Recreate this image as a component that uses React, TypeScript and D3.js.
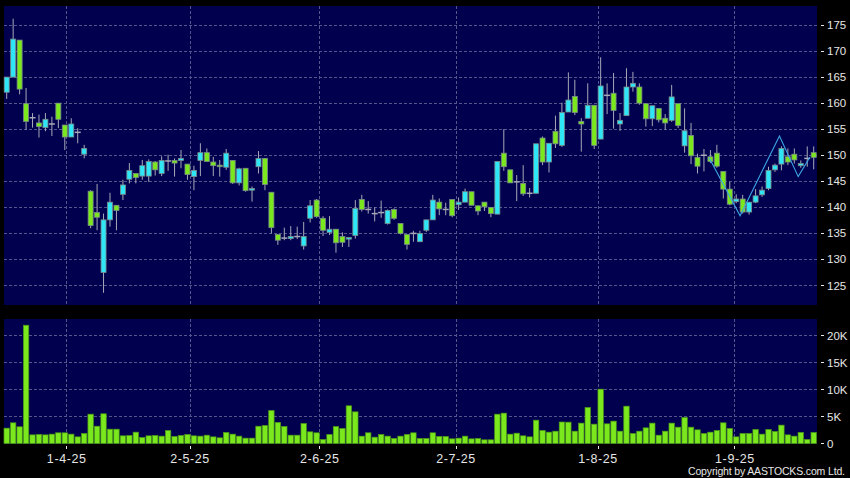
import React from "react";
import * as d3 from "d3";

// ---- data ----
const opens = [
  162.1, 165.0, 172.1, 159.9, 157.2, 156.2, 155.3, 156.0, 160.0, 155.8,
  153.5, 154.4, 150.2, 143.1, 139.0, 127.5, 137.6, 140.4, 142.5, 145.4,
  146.5, 146.0, 146.0, 148.7, 146.5, 148.9, 149.0, 149.0, 148.3, 145.9,
  149.0, 150.5, 148.7, 148.1, 147.7, 149.0, 144.7, 147.5, 143.3, 147.8,
  149.4, 142.9, 134.8, 134.1, 134.0, 134.4, 132.6, 137.9, 141.4, 137.9,
  135.2, 135.8, 134.4, 133.9, 134.6, 141.5, 139.6, 138.8, 139.0, 136.9,
  139.6, 136.9, 134.8, 135.0, 133.4, 135.6, 137.6, 141.0, 139.6, 141.5,
  140.5, 141.0, 143.0, 140.3, 141.0, 140.0, 138.7, 150.4, 147.2, 144.9,
  144.6, 142.7, 142.7, 153.3, 148.7, 154.6, 151.9, 158.3, 161.3, 156.5,
  157.1, 159.6, 153.1, 161.5, 161.9, 156.0, 157.6, 163.1, 163.1, 159.9,
  157.0, 159.0, 157.1, 156.7, 159.9, 151.8, 153.8, 149.6, 150.0, 149.7,
  150.4, 146.9, 143.5, 141.1, 141.6, 139.1, 141.0, 142.4, 143.6, 147.2,
  148.3, 149.7, 150.2, 148.0, 149.4, 150.5,
];
const highs = [
  165.0, 176.2, 172.1, 162.9, 158.1, 157.8, 158.1, 157.4, 160.0, 155.8,
  157.1, 155.2, 152.0, 143.3, 144.5, 138.8, 142.8, 140.4, 145.3, 148.5,
  146.5, 149.1, 149.2, 148.9, 149.8, 150.1, 149.4, 151.0, 148.3, 148.0,
  152.3, 151.3, 149.7, 149.1, 151.2, 149.0, 147.6, 147.5, 144.0, 150.8,
  149.4, 142.9, 134.8, 136.1, 136.4, 136.3, 137.2, 141.4, 141.6, 138.3,
  138.3, 135.8, 135.2, 134.2, 141.4, 142.4, 141.2, 140.0, 141.3, 139.6,
  139.8, 136.9, 134.8, 135.5, 135.5, 137.6, 142.4, 141.7, 140.9, 141.5,
  141.9, 143.6, 143.0, 140.3, 141.0, 140.0, 148.8, 155.0, 147.2, 146.2,
  148.1, 143.7, 152.2, 153.6, 152.3, 157.6, 160.1, 165.9, 164.5, 157.1,
  163.8, 159.6, 168.8, 163.8, 165.8, 158.1, 166.7, 166.0, 163.8, 159.9,
  159.6, 159.0, 157.9, 163.5, 159.9, 159.0, 156.2, 150.3, 151.2, 151.0,
  152.0, 146.9, 144.9, 142.5, 142.4, 141.0, 143.5, 144.0, 147.8, 148.4,
  151.7, 151.3, 151.3, 149.0, 151.7, 151.7,
];
const lows = [
  160.8, 165.0, 161.7, 154.9, 155.3, 153.4, 154.6, 153.7, 155.2, 151.0,
  153.5, 152.3, 149.4, 136.0, 135.6, 123.6, 136.3, 135.6, 141.4, 144.6,
  144.6, 145.3, 144.9, 146.1, 146.0, 147.0, 145.9, 147.5, 145.3, 143.3,
  146.0, 148.8, 146.0, 145.9, 147.2, 144.5, 144.2, 143.0, 141.1, 146.5,
  143.3, 135.0, 132.8, 133.7, 133.7, 133.9, 131.9, 137.1, 138.0, 134.5,
  134.7, 131.3, 132.4, 132.4, 134.0, 139.2, 138.8, 137.3, 138.0, 136.7,
  137.6, 134.8, 131.9, 133.4, 133.4, 135.3, 137.6, 138.5, 138.5, 138.1,
  139.5, 141.0, 140.4, 138.5, 139.3, 138.1, 138.7, 147.0, 144.7, 141.2,
  142.2, 141.9, 142.7, 148.1, 146.7, 151.4, 151.6, 158.3, 157.7, 150.7,
  157.1, 151.2, 153.1, 157.9, 155.1, 154.7, 157.6, 162.2, 159.7, 155.5,
  155.6, 156.3, 154.9, 156.4, 155.2, 150.5, 148.3, 146.5, 146.9, 148.5,
  147.6, 141.7, 140.4, 140.8, 138.8, 138.6, 140.8, 142.0, 143.3, 146.8,
  147.1, 148.1, 148.4, 147.6, 147.8, 147.3,
];
const closes = [
  165.0, 172.3, 162.7, 156.5, 157.2, 155.5, 156.9, 156.0, 156.9, 153.5,
  156.0, 154.4, 151.3, 136.5, 138.1, 137.6, 141.0, 139.4, 144.3, 147.1,
  145.7, 148.0, 148.8, 147.2, 149.0, 148.9, 148.5, 149.4, 146.3, 147.1,
  150.5, 148.8, 148.0, 147.8, 150.4, 144.7, 147.4, 143.2, 143.6, 149.4,
  144.4, 136.1, 133.7, 134.1, 134.4, 134.4, 134.4, 140.3, 138.2, 135.6,
  135.8, 133.2, 133.3, 134.2, 139.8, 139.6, 139.6, 138.8, 139.0, 139.4,
  137.9, 135.0, 132.9, 135.0, 135.0, 137.6, 141.4, 139.7, 139.6, 138.4,
  141.0, 143.0, 140.4, 139.3, 140.1, 138.8, 148.8, 147.8, 144.7, 144.9,
  142.6, 142.7, 152.2, 148.7, 152.3, 152.2, 158.2, 160.6, 158.2, 156.0,
  159.6, 151.9, 163.3, 161.5, 158.6, 156.7, 163.1, 163.8, 160.0, 157.0,
  159.5, 156.8, 156.2, 161.2, 155.7, 154.7, 149.9, 147.9, 150.0, 148.8,
  147.9, 143.5, 140.6, 141.6, 139.1, 141.0, 142.2, 143.3, 147.1, 148.1,
  151.3, 148.7, 149.1, 148.4, 149.4, 149.6,
];
const volumes = [
  2840, 3830, 3090, 21900, 1600, 1670, 1600, 1730, 1980, 1980,
  1730, 1230, 1850, 5430, 3200, 5500, 2650, 2650, 1420, 1480,
  2100, 1110, 1420, 1480, 1360, 2400, 1300, 1480, 1670, 1420,
  1360, 1540, 1230, 1050, 2040, 1730, 1360, 990, 990, 3200,
  3330, 6100, 3900, 3150, 1540, 1540, 3700, 2160, 1980, 740,
  1670, 3150, 2780, 6980, 5860, 1360, 1980, 1170, 1670, 1360,
  930, 1360, 1670, 1980, 930, 930, 1980, 1300, 1300, 860,
  990, 1360, 860, 930, 680, 680, 5430, 5620, 1730, 1910,
  1420, 1230, 4320, 2410, 2100, 2280, 3980, 3950, 2280, 3770,
  6670, 3580, 10060, 3640, 4140, 2280, 6910, 1850, 2280, 2900,
  3770, 1540, 2280, 3770, 3020, 4810, 3020, 2530, 1850, 2100,
  2410, 3830, 2780, 1230, 1850, 1850, 2590, 1730, 2590, 2220,
  3400, 1600, 1360, 2040, 740, 2040,
];
const priceTicks = [125, 130, 135, 140, 145, 150, 155, 160, 165, 170, 175];
const volTicks = [0, 5000, 10000, 15000, 20000];
const volTickLabels = ["0", "5K", "10K", "15K", "20K"];
const dateTickIdx = [9.3, 28.4, 48.5, 69.6, 91.6, 112.8];
const dateLabels = ["1-4-25", "2-5-25", "2-6-25", "2-7-25", "1-8-25", "1-9-25"];
const trendIdx = [108.8, 113.6, 119.7, 122.6, 124.4];
const trendPrice = [149.5, 138.4, 153.7, 145.9, 149.6];

// ---- styling ----
const BG = "#000000";
const PANEL = "#00004e";
const GRID = "#55558e";
const UP = "#2ee6f6";
const DOWN = "#7be81e";
const TEXT = "#e6e6e6";
const FONT = "'Liberation Sans', Arial, sans-serif";

export default function App() {
  const W = 850, H = 478;
  const n = closes.length;
  const x = d3.scaleLinear().domain([0, n - 1]).range([6.7, 813.7]);
  const yP = d3.scaleLinear().domain([125, 175]).range([285.5, 25]);
  const yV = d3.scaleLinear().domain([0, 20000]).range([443.5, 335.5]);
  const main = { x: 4, y: 6, w: 813, h: 299 };
  const vol = { x: 4, y: 319, w: 813, h: 125 };
  const bw = 5;
  const vw = 5.4;

  const trendLine = d3
    .line<number>()
    .x((_, k) => x(trendIdx[k]))
    .y((d) => yP(d))(trendPrice);

  return (
    <svg
      width={W}
      height={H}
      style={{ position: "absolute", left: 0, top: 0, display: "block", background: BG }}
    >
      <rect x={0} y={0} width={W} height={H} fill={BG} />
      <rect x={main.x} y={main.y} width={main.w} height={main.h} fill={PANEL} />
      <rect x={vol.x} y={vol.y} width={vol.w} height={vol.h} fill={PANEL} />

      {/* horizontal grid, price */}
      {priceTicks.map((p) => (
        <g key={"pg" + p}>
          <line x1={main.x} x2={main.x + main.w} y1={yP(p)} y2={yP(p)} stroke={GRID} strokeDasharray="3,2" strokeWidth={1} shapeRendering="crispEdges" />
          <line x1={821} x2={824} y1={yP(p)} y2={yP(p)} stroke={TEXT} strokeWidth={1} shapeRendering="crispEdges" />
          <text x={827} y={yP(p) + 4} fill={TEXT} fontSize={11.5} fontFamily={FONT}>{p}</text>
        </g>
      ))}
      {/* horizontal grid, volume */}
      {volTicks.map((v, k) => (
        <g key={"vg" + v}>
          {v > 0 && (
            <line x1={vol.x} x2={vol.x + vol.w} y1={yV(v)} y2={yV(v)} stroke={GRID} strokeDasharray="3,2" strokeWidth={1} shapeRendering="crispEdges" />
          )}
          <line x1={821} x2={824} y1={yV(v)} y2={yV(v)} stroke={TEXT} strokeWidth={1} shapeRendering="crispEdges" />
          <text x={827} y={yV(v) + 4} fill={TEXT} fontSize={11.5} fontFamily={FONT}>{volTickLabels[k]}</text>
        </g>
      ))}
      {/* vertical grid + date ticks */}
      {dateTickIdx.map((d, k) => (
        <g key={"dg" + k}>
          <line x1={x(d)} x2={x(d)} y1={main.y} y2={main.y + main.h} stroke={GRID} strokeDasharray="3,2" strokeWidth={1} shapeRendering="crispEdges" />
          <line x1={x(d)} x2={x(d)} y1={vol.y} y2={vol.y + vol.h} stroke={GRID} strokeDasharray="3,2" strokeWidth={1} shapeRendering="crispEdges" />
          <line x1={x(d)} x2={x(d)} y1={446} y2={449} stroke={TEXT} strokeWidth={1} shapeRendering="crispEdges" />
          <text x={x(d)} y={463} fill={TEXT} fontSize={12.5} letterSpacing={0.6} textAnchor="middle" fontFamily={FONT}>
            {dateLabels[k]}
          </text>
        </g>
      ))}

      {/* candles */}
      {closes.map((c, i) => {
        const o = opens[i];
        const cx = x(i);
        const top = yP(Math.max(o, c));
        const bot = yP(Math.min(o, c));
        const doji = Math.abs(c - o) < 0.05;
        const fill = doji ? "#a0a0b0" : c > o ? UP : DOWN;
        return (
          <g key={"c" + i}>
            <line x1={cx} x2={cx} y1={yP(highs[i])} y2={yP(lows[i])} stroke="#a8a8b8" strokeWidth={1} />
            {doji ? (
              <line x1={cx - 3} x2={cx + 3} y1={top} y2={top} stroke="#a8a8b8" strokeWidth={1.5} />
            ) : (
              <rect x={cx - bw / 2} y={top} width={bw} height={Math.max(bot - top, 1.5)} fill={fill} stroke="#7a8a8a" strokeWidth={0.8} />
            )}
          </g>
        );
      })}

      {/* overlay line */}
      <path d={trendLine || ""} fill="none" stroke="#3ba6e6" strokeWidth={1.1} />

      {/* volume bars */}
      {volumes.map((v, i) => (
        <rect
          key={"v" + i}
          x={x(i) - vw / 2}
          y={yV(v)}
          width={vw}
          height={yV(0) - yV(v)}
          fill={DOWN}
          stroke="#4c9a14"
          strokeWidth={0.7}
        />
      ))}

      <text x={845} y={475} fill={TEXT} fontSize={10.5} textAnchor="end" fontFamily={FONT} textLength={157}>
        Copyright by AASTOCKS.com Ltd.
      </text>
    </svg>
  );
}
